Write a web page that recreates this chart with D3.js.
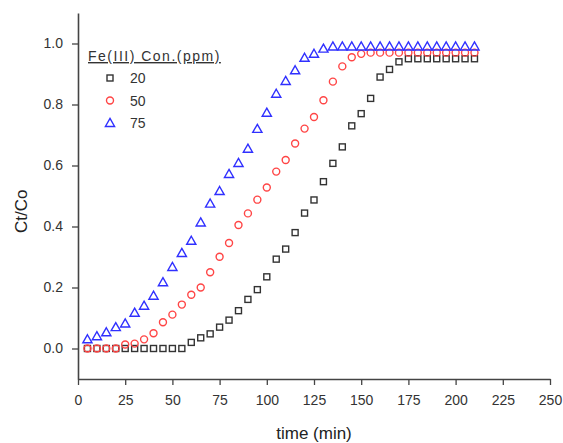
<!DOCTYPE html>
<html>
<head>
<meta charset="utf-8">
<script src="https://cdn.jsdelivr.net/npm/d3@7"></script>
<style>
  body { margin: 0; background: #fff; }
  text { font-family: "Liberation Sans", Arial, sans-serif; }
</style>
</head>
<body>
<div id="chart" style="width:563px;height:443px"></div>
<script>
// time points (min)
const times = [5,10,15,20,25,30,35,40,45,50,55,60,65,70,75,80,85,90,95,100,105,
  110,115,120,125,130,135,140,145,150,155,160,165,170,175,180,185,190,195,200,205,210];

// Ct/C0 for each Fe(III) concentration
const c20 = [0,0,0,0,0,0,0,0,0,0,0,0.02,0.035,0.048,0.07,0.093,0.124,0.161,0.193,0.235,0.293,
  0.326,0.38,0.444,0.487,0.547,0.607,0.661,0.73,0.77,0.82,0.89,0.915,0.94,0.95,0.95,0.95,0.95,0.95,0.95,0.95,0.95];
const c50 = [0,0,0,0,0.013,0.016,0.03,0.05,0.086,0.111,0.144,0.176,0.2,0.25,0.301,0.346,0.405,0.443,0.488,0.528,0.58,
  0.618,0.672,0.721,0.759,0.814,0.875,0.925,0.955,0.966,0.97,0.97,0.97,0.97,0.97,0.97,0.97,0.97,0.97,0.97,0.97,0.97];
const c75 = [0.03,0.04,0.053,0.07,0.082,0.117,0.14,0.173,0.217,0.267,0.313,0.353,0.413,0.475,0.516,0.572,0.608,0.655,0.72,0.773,0.835,
  0.877,0.912,0.953,0.966,0.983,0.99,0.99,0.99,0.99,0.99,0.99,0.99,0.99,0.99,0.99,0.99,0.99,0.99,0.99,0.99,0.99];

const seriesNames = ["20", "50", "75"];
const seriesColors = ["#333333", "#ff4545", "#3030ff"];
const seriesShapes = ["square", "circle", "triangle"];
const seriesValues = [c20, c50, c75];

const xTicks = [0,25,50,75,100,125,150,175,200,225,250];
const yTicks = [0.0,0.2,0.4,0.6,0.8,1.0];

const width = 563, height = 443;
const margin = { top: 13, right: 13, bottom: 64, left: 78 };

const svg = d3.select("#chart").append("svg")
  .attr("width", width)
  .attr("height", height);

const x = d3.scaleLinear().domain([0, 250]).range([margin.left, width - margin.right]);
const y = d3.scaleLinear().domain([-0.1, 1.1]).range([height - margin.bottom, margin.top]);

const axisColor = "#444";

// X axis: major + minor ticks
const gx = svg.append("g")
  .attr("transform", `translate(0,${y(-0.1)})`);
gx.call(d3.axisBottom(x).tickValues(d3.range(12.5, 250, 25)).tickSize(3).tickFormat(""));
gx.call(d3.axisBottom(x).tickValues(xTicks).tickSize(6).tickSizeOuter(0).tickPadding(10).tickFormat(d3.format("d")));

// Y axis
const gy = svg.append("g")
  .attr("transform", `translate(${x(0)},0)`);
gy.call(d3.axisLeft(y).tickValues([-0.1, 0.1, 0.3, 0.5, 0.7, 0.9, 1.1]).tickSize(3).tickFormat(""));
gy.call(d3.axisLeft(y).tickValues(yTicks).tickSize(6).tickSizeOuter(0).tickPadding(9).tickFormat(d3.format(".1f")));

svg.selectAll(".domain").attr("stroke", axisColor).attr("stroke-width", 1.6);
svg.selectAll(".tick line").attr("stroke", axisColor).attr("stroke-width", 1.3);
svg.selectAll(".tick text")
  .style("font-family", "'Liberation Sans', Arial, sans-serif")
  .style("font-size", "14px")
  .attr("fill", "#333");

// Axis titles
svg.append("text")
  .attr("x", (x(0) + x(250)) / 2)
  .attr("y", 439)
  .attr("text-anchor", "middle")
  .style("font-size", "17px")
  .attr("fill", "#222")
  .text("time (min)");

svg.append("text")
  .attr("transform", `translate(27,${y(0.45)}) rotate(-90)`)
  .attr("text-anchor", "middle")
  .style("font-size", "17px")
  .attr("fill", "#222")
  .text("Ct/Co");

// marker shapes
function drawMarker(g, shape, color, cx, cy) {
  if (shape === "square") {
    g.append("rect").attr("x", cx - 3).attr("y", cy - 3).attr("width", 6).attr("height", 6)
      .attr("fill", "none").attr("stroke", color).attr("stroke-width", 1.4);
  } else if (shape === "circle") {
    g.append("circle").attr("cx", cx).attr("cy", cy).attr("r", 3.5)
      .attr("fill", "none").attr("stroke", color).attr("stroke-width", 1.4);
  } else {
    const s = 4.6;
    g.append("path")
      .attr("d", `M${cx},${cy - s} L${cx + s},${cy + s * 0.75} L${cx - s},${cy + s * 0.75} Z`)
      .attr("fill", "none").attr("stroke", color).attr("stroke-width", 1.4);
  }
}

// Points
seriesValues.forEach((vals, si) => {
  const g = svg.append("g");
  vals.forEach((v, i) => drawMarker(g, seriesShapes[si], seriesColors[si], x(times[i]), y(v)));
});

// Legend
const legend = svg.append("g");
legend.append("text")
  .attr("x", 88).attr("y", 61)
  .style("font-size", "14px")
  .style("letter-spacing", "1.5px")
  .attr("fill", "#333")
  .attr("text-decoration", "underline")
  .text("Fe(III) Con.(ppm)");

seriesNames.forEach((name, i) => {
  const cy = 78 + i * 22.5;
  drawMarker(legend, seriesShapes[i], seriesColors[i], 110, cy);
  legend.append("text")
    .attr("x", 130).attr("y", cy + 5)
    .style("font-size", "14px")
    .attr("fill", "#333")
    .text(name);
});
</script>
</body>
</html>
